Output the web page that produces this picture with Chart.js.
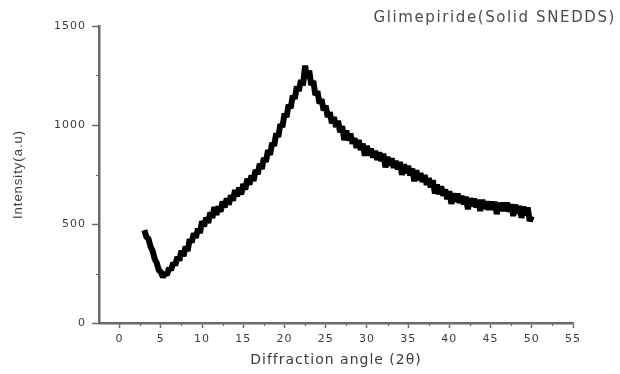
<!DOCTYPE html>
<html>
<head>
<meta charset="utf-8">
<script src="https://cdn.jsdelivr.net/npm/chart.js@4/dist/chart.umd.min.js"></script>
<style>
  html, body { margin: 0; padding: 0; background: #ffffff; }
  canvas { display: block; }
</style>
</head>
<body>
<canvas id="xrd" width="620" height="374"></canvas>
<script>
// XRD pattern of Glimepiride solid SNEDDS, sampled every 0.25° (2θ) from 3° to 50°
const angleStart = 3;
const angleStep = 0.25;
const intensity = [
  469, 435, 426, 386, 365, 324, 304, 267,            // 3.0 – 4.75
  258, 232, 252, 243, 277, 268, 304, 291,            // 5.0 – 6.75
  334, 315, 365, 338, 385, 364, 423, 408,            // 7.0 – 8.75
  453, 430, 477, 454, 514, 488, 532, 505,            // 9.0 – 10.75
  558, 530, 586, 546, 589, 562, 613, 584,            // 11 – 12.75
  629, 598, 645, 618, 671, 640, 683, 650,            // 13 – 14.75
  701, 674, 728, 699, 745, 718, 773, 752,            // 15 – 16.75
  804, 778, 833, 815, 872, 850, 909, 895,            // 17 – 18.75
  958, 940, 1004, 990, 1058, 1040, 1102, 1084,       // 19 – 20.75
  1148, 1132, 1194, 1172, 1227, 1200, 1300, 1235,    // 21 – 22.75
  1275, 1202, 1222, 1151, 1170, 1108, 1130, 1074,    // 23 – 24.75
  1097, 1040, 1064, 1009, 1040, 990, 1021, 963,      // 25 – 26.75
  994, 924, 972, 922, 957, 906, 933, 885,            // 27 – 28.75
  923, 874, 905, 845, 894, 846, 880, 836,            // 29 – 30.75
  869, 824, 861, 818, 855, 786, 839, 796,            // 31 – 32.75
  831, 784, 819, 776, 813, 748, 801, 758,            // 33 – 34.75
  793, 746, 779, 716, 771, 723, 757, 713,            // 35 – 36.75
  747, 698, 731, 685, 721, 654, 699, 651,            // 37 – 38.75
  690, 643, 674, 626, 665, 602, 654, 612,            // 39 – 40.75
  653, 607, 642, 599, 638, 575, 630, 590,            // 41 – 42.75
  628, 584, 622, 566, 622, 578, 614, 572,            // 43 – 44.75
  613, 572, 613, 550, 607, 566, 607, 566,            // 45 – 46.75
  607, 563, 599, 541, 597, 553, 591, 531,            // 47 – 48.75
  587, 544, 583, 515, 540                            // 49 – 50
];

// axis ticks
const xTickValues = [0, 5, 10, 15, 20, 25, 30, 35, 40, 45, 50, 55];
const yTickValues = [0, 500, 1000, 1500];
const xMinorTicks = [2.5, 7.5, 12.5, 17.5, 22.5, 27.5, 32.5, 37.5, 42.5, 47.5, 52.5];
const yMinorTicks = [250, 750, 1250];

const chartTitle = 'Glimepiride(Solid SNEDDS)';
const xAxisTitle = 'Diffraction angle (2θ)';
const yAxisTitle = 'Intensity(a.u)';

const points = intensity.map((v, i) => ({ x: angleStart + i * angleStep, y: v }));

const axisGrey = '#6a6a6a';
const textGrey = '#3c3c3c';

// wide lettering for all text drawn by the scales
const spacingPlugin = {
  id: 'spacing',
  beforeDraw(chart) { chart.ctx.letterSpacing = '1px'; }
};

// minor ticks and the caption in the top-right corner
const extrasPlugin = {
  id: 'extras',
  afterDraw(chart) {
    const ctx = chart.ctx;
    const xs = chart.scales.x, ys = chart.scales.y;
    ctx.save();
    ctx.strokeStyle = axisGrey;
    ctx.lineWidth = 1.2;
    ctx.beginPath();
    xMinorTicks.forEach(v => {
      const px = Math.round(xs.getPixelForValue(v)) + 0.5;
      ctx.moveTo(px, ys.bottom);
      ctx.lineTo(px, ys.bottom + 3);
    });
    yMinorTicks.forEach(v => {
      const py = Math.round(ys.getPixelForValue(v)) + 0.5;
      ctx.moveTo(xs.left, py);
      ctx.lineTo(xs.left - 3, py);
    });
    ctx.stroke();

    ctx.letterSpacing = '1.6px';
    ctx.font = '15px "DejaVu Sans"';
    ctx.fillStyle = '#4a4a4a';
    ctx.textAlign = 'right';
    ctx.textBaseline = 'middle';
    ctx.fillText(chartTitle, 616, 18);
    ctx.restore();
  }
};

new Chart(document.getElementById('xrd'), {
  type: 'line',
  data: {
    datasets: [{
      data: points,
      borderColor: '#000000',
      borderWidth: 6,
      borderJoinStyle: 'bevel',
      pointRadius: 0,
      tension: 0,
      fill: false
    }]
  },
  options: {
    responsive: false,
    animation: false,
    devicePixelRatio: 1,
    layout: { padding: { left: 0, right: 47, top: 26, bottom: 0 } },
    plugins: { legend: { display: false }, tooltip: { enabled: false } },
    scales: {
      x: {
        type: 'linear',
        min: -2.5,
        max: 55,
        afterBuildTicks(scale) { scale.ticks = xTickValues.map(v => ({ value: v })); },
        afterFit(scale) { scale.height = 51; },
        border: { display: true, color: axisGrey, width: 2.5 },
        grid: { drawOnChartArea: false, drawTicks: true, tickLength: 5, tickColor: axisGrey, tickWidth: 1.5 },
        ticks: {
          padding: 5,
          maxRotation: 0,
          autoSkip: false,
          color: textGrey,
          font: { family: '"DejaVu Sans"', size: 11 },
          callback: v => String(v)
        },
        title: {
          display: true,
          text: xAxisTitle,
          color: textGrey,
          font: { family: '"DejaVu Sans"', size: 14 },
          padding: { top: 0, bottom: 5 }
        }
      },
      y: {
        type: 'linear',
        min: 0,
        max: 1500,
        afterBuildTicks(scale) { scale.ticks = yTickValues.map(v => ({ value: v })); },
        afterFit(scale) { scale.width = 99; },
        border: { display: true, color: axisGrey, width: 2.5 },
        grid: { drawOnChartArea: false, drawTicks: true, tickLength: 7, tickColor: axisGrey, tickWidth: 1.5 },
        ticks: {
          padding: 6,
          color: textGrey,
          font: { family: '"DejaVu Sans"', size: 11 },
          callback: v => String(v)
        },
        title: {
          display: true,
          text: yAxisTitle,
          color: textGrey,
          font: { family: '"Liberation Sans"', size: 13 },
          padding: { top: 11, bottom: 0 }
        }
      }
    }
  },
  plugins: [spacingPlugin, extrasPlugin]
});
</script>
</body>
</html>
